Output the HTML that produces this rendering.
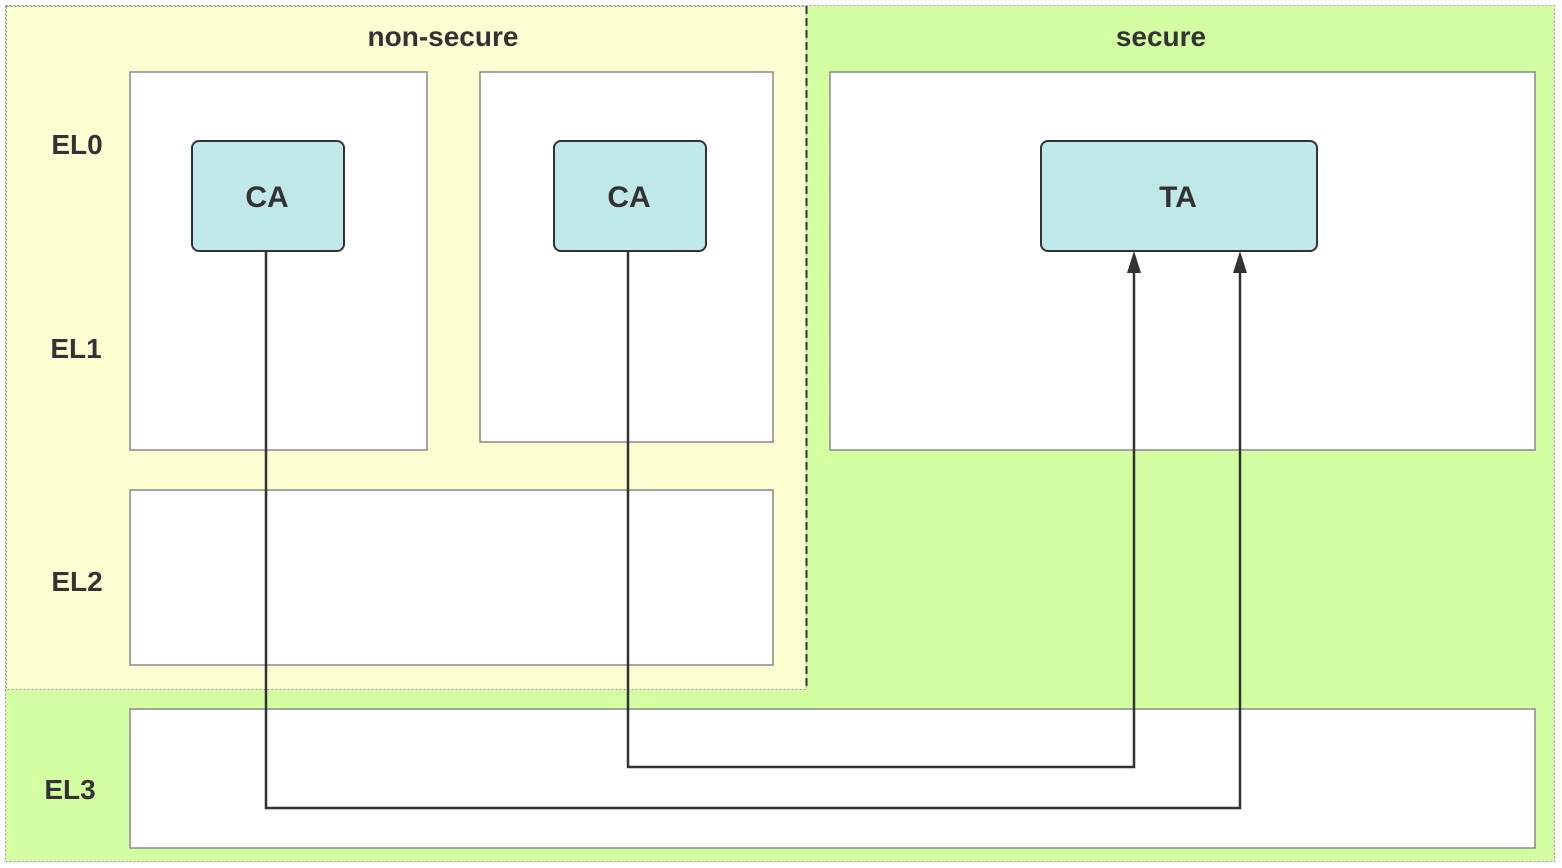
<!DOCTYPE html>
<html><head><style>html,body{margin:0;padding:0;background:#fff}</style></head>
<body>
<svg width="1562" height="868" xmlns="http://www.w3.org/2000/svg" style="display:block;font-family:'Liberation Sans',sans-serif;font-weight:bold">
<rect x="5.5" y="5.5" width="1549" height="856" fill="#d4fea2" stroke="#999" stroke-dasharray="2,2"/>
<rect x="6.5" y="6.5" width="800" height="683" fill="#fdfed2" stroke="#999" stroke-dasharray="2,2"/>
<line x1="806.5" y1="6" x2="806.5" y2="690" stroke="#333" stroke-width="2" stroke-dasharray="8,4"/>
<g fill="#fff" stroke="#888" stroke-width="1.5">
<rect x="130" y="72" width="297" height="378"/>
<rect x="480" y="72" width="293" height="370"/>
<rect x="830" y="72" width="705" height="378"/>
<rect x="130" y="490" width="643" height="175"/>
<rect x="130" y="709" width="1405" height="139"/>
</g>
<g fill="#c1e8e8" stroke="#333" stroke-width="2">
<rect x="192" y="141" width="152" height="110" rx="7"/>
<rect x="554" y="141" width="152" height="110" rx="7"/>
<rect x="1041" y="141" width="276" height="110" rx="7"/>
</g>
<g fill="none" stroke="#333" stroke-width="2.5">
<polyline points="266,251 266,808 1240,808 1240,268"/>
<polyline points="628,251 628,767 1134,767 1134,268"/>
</g>
<g fill="#333">
<polygon points="1240,251 1233,273 1247,273"/>
<polygon points="1134,251 1127,273 1141,273"/>
</g>
<g fill="#333" font-size="28" text-anchor="middle">
<text x="443" y="46">non-secure</text>
<text x="1161" y="46">secure</text>
<text x="77" y="154">EL0</text>
<text x="76" y="358">EL1</text>
<text x="77" y="591">EL2</text>
<text x="70" y="799">EL3</text>
</g>
<g fill="#333" font-size="30" text-anchor="middle">
<text x="267" y="207">CA</text>
<text x="629" y="207">CA</text>
<text x="1178" y="207">TA</text>
</g>
</svg>
</body></html>
